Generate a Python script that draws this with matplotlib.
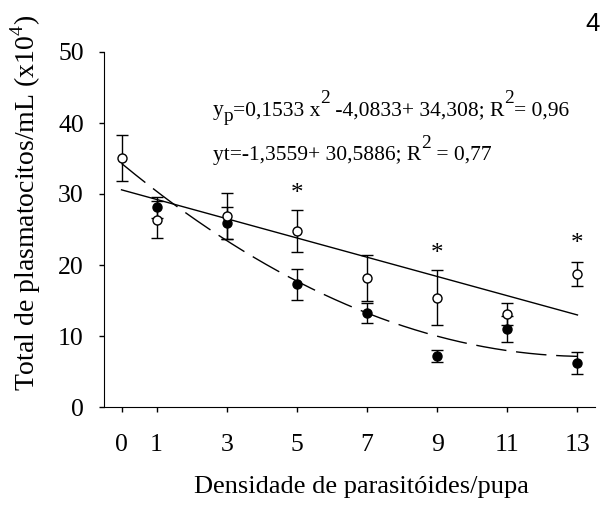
import numpy as np
import matplotlib.pyplot as plt
from matplotlib.transforms import offset_copy

plt.rcParams['font.family'] = 'Liberation Serif'
plt.rcParams['mathtext.fontset'] = 'custom'
plt.rcParams['mathtext.rm'] = 'Liberation Serif'

# densidade de parasitoides por pupa
dens = np.array([0, 1, 3, 5, 7, 9, 11, 13])

# testemunha (circulos abertos)
y_t = np.array([35.1, 26.4, 26.9, 24.8, 18.2, 15.4, 13.1, 18.7])
err_t = np.array([3.2, 2.6, 3.2, 2.9, 3.2, 3.9, 1.6, 1.7])

# parasitadas (circulos cheios), sem ponto em 0
dens_p = np.array([1, 3, 5, 7, 9, 11, 13])
y_p = np.array([28.1, 25.9, 17.3, 13.3, 7.2, 11.0, 6.2])
err_p = np.array([1.5, 2.3, 2.2, 1.4, 0.85, 1.8, 1.55])

# coeficientes das regressoes
coef_p = [0.1533, -4.0833, 34.308]
coef_t = [-1.3559, 30.5886]

star_x = [5, 9, 13]
star_y = [30.0, 21.5, 23.0]

xticks = [0, 1, 3, 5, 7, 9, 11, 13]
yticks = [0, 10, 20, 30, 40, 50]

# pedacos das equacoes: (texto, tipo)  n=normal, sup=expoente, sub=indice
eq1 = [('y', 'n'), ('p', 'sub'), ('=0,1533 x', 'n'), ('2', 'sup'),
       (' -4,0833+ 34,308; R', 'n'), ('2', 'sup'), ('= 0,96', 'n')]
eq2 = [('yt=-1,3559+ 30,5886; R', 'n'), ('2', 'sup'), (' = 0,77', 'n')]


def write_segments(fig, ax, x, y, segs, size=15.5):
    renderer = fig.canvas.get_renderer()
    dx = 0
    for txt, kind in segs:
        dy = 0
        fs = size
        if kind == 'sup':
            dy = size * 0.55
            fs = size * 0.9
        elif kind == 'sub':
            dy = -size * 0.25
            fs = size * 0.9
        tr = offset_copy(ax.transData, fig=fig, x=dx, y=dy, units='points')
        t = ax.text(x, y, txt, fontsize=fs, va='baseline', ha='left', transform=tr)
        w = t.get_window_extent(renderer=renderer).width
        dx += w * 72.0 / fig.dpi


fig = plt.figure(figsize=(6.03, 5.11), dpi=100)
ax = fig.add_axes([104/603, 1 - 407/511, 491/603, 355/511])

xx = np.linspace(0, 13, 200)
ax.plot(xx, np.polyval(coef_t, xx), color='black', lw=1)
ax.plot(xx, np.polyval(coef_p, xx), color='black', lw=1, dashes=(22, 7))

ax.errorbar(dens_p, y_p, yerr=err_p, fmt='o', color='black',
            mfc='black', mec='black', ms=6.5, capsize=4, elinewidth=1, capthick=1)
ax.errorbar(dens, y_t, yerr=err_t, fmt='o', color='black',
            mfc='white', mec='black', ms=6.5, capsize=4, elinewidth=1, capthick=1)

for sx, sy in zip(star_x, star_y):
    ax.text(sx, sy, '*', ha='center', va='center', fontsize=18)

ax.set_xlim(-0.5, 13.5)
ax.set_ylim(0, 50)
ax.set_xticks(xticks)
ax.set_yticks(yticks)
ax.tick_params(labelsize=18.5, direction='out', length=3.5, width=1)
ax.tick_params(axis='x', pad=16)
ax.tick_params(axis='y', pad=11)
ax.spines['top'].set_visible(False)
ax.spines['right'].set_visible(False)
ax.set_xlabel('Densidade de parasitóides/pupa', fontsize=19, va='top')
ax.xaxis.set_label_coords(0.524, -0.195)
ax.set_ylabel(r'Total de plasmatocitos/mL (x10$^\mathrm{4}$)', fontsize=20)
ax.yaxis.set_label_coords(-0.125, 0.576)

fig.canvas.draw()
write_segments(fig, ax, 2.6, 41.1, eq1)
write_segments(fig, ax, 2.6, 34.8, eq2)

fig.text(593/603, 1 - 24/511, '4', fontsize=18.5, ha='center', va='center',
         family='Liberation Sans')

fig.savefig('out.png', dpi=100)
